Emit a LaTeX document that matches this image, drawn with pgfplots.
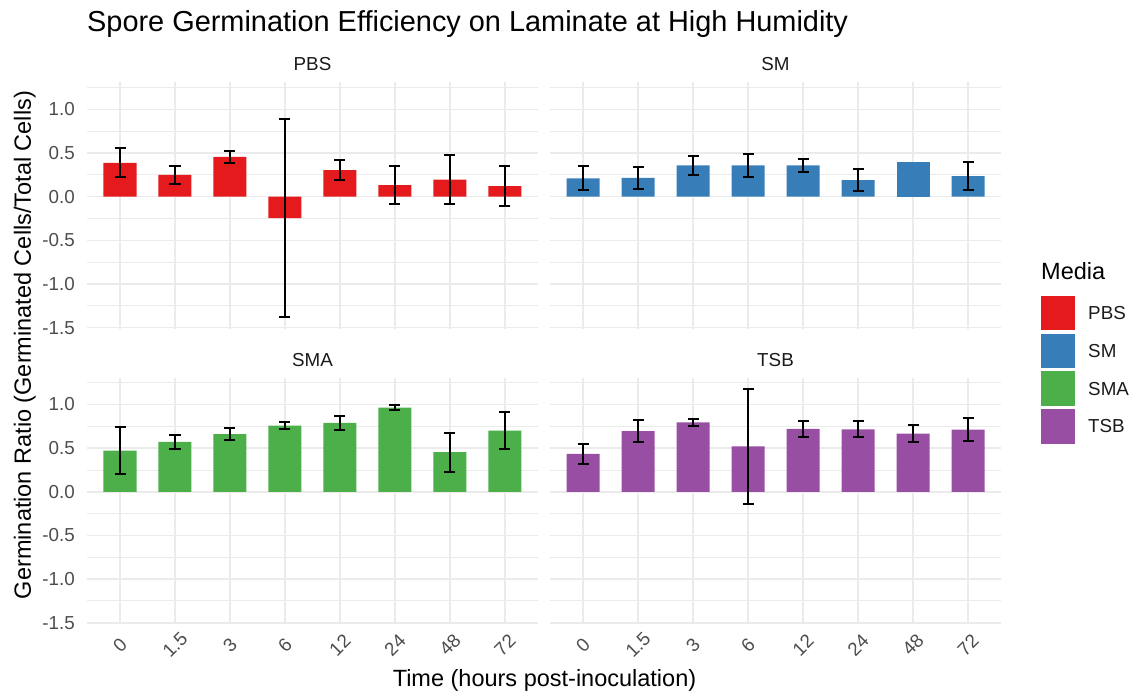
\documentclass[border=0pt]{standalone}
\usepackage{fontspec}
\setmainfont{Liberation Sans}
\usepackage{pgfplots}
\pgfplotsset{compat=1.18}
\definecolor{cPBS}{HTML}{E41A1C}
\definecolor{cSM}{HTML}{377EB8}
\definecolor{cSMA}{HTML}{4DAF4A}
\definecolor{cTSB}{HTML}{984EA3}
\definecolor{gridc}{HTML}{EBEBEB}
\definecolor{tickc}{HTML}{4D4D4D}
\definecolor{stripc}{HTML}{1A1A1A}
\pgfplotsset{
 panel/.style={
  scale only axis, width=451pt, height=246.4pt, anchor=south west,
  xmin=-0.6, xmax=7.6, ymin=-1.514, ymax=1.308,
  xtick={0,...,7}, ytick={-1.5,-1,-0.5,0,0.5,1},
  minor ytick={-1.25,-0.75,-0.25,0.25,0.75,1.25},
  xmajorgrids, ymajorgrids, yminorgrids,
  major grid style={draw=gridc, line width=1.6pt},
  minor grid style={draw=gridc, line width=0.9pt},
  axis line style={draw=none},
  major tick length=0pt, minor tick length=0pt,
  tick style={draw=none},
  tick label style={font=\fontsize{18.8}{20}\selectfont, text=tickc},
  yticklabel style={anchor=east, inner sep=0pt, xshift=-12pt},
  xticklabel style={yshift=-21pt, rotate=45, anchor=center, inner sep=0pt},
  xticklabels={}, yticklabels={},
  /pgf/number format/assume math mode=true,
 },
 leftpanel/.style={yticklabels={-1.5,-1.0,-0.5,0.0,0.5,1.0}},
 bottompanel/.style={xticklabels={0,1.5,3,6,12,24,48,72}},
 errs/.style={error bars/y dir=both, error bars/y explicit,
   error bars/error bar style={line width=2pt, black},
   error bars/error mark options={rotate=90, line width=2pt, black, mark size=5.5pt}},
 bars/.style={ybar, bar width=33pt, bar shift=0pt, draw=none, fill=#1},
}
\begin{document}
\begin{tikzpicture}[x=1pt,y=1pt]
\useasboundingbox (0,0) rectangle (1132,698);

% PBS
\begin{axis}[panel, leftpanel, at={(87pt,369.1pt)}]
\addplot[bars=cPBS, errs] coordinates {
 (0,0.387) +- (0,0.167)
 (1,0.250) +- (0,0.100)
 (2,0.455) +- (0,0.070)
 (3,-0.245) +- (0,1.135)
 (4,0.305) +- (0,0.113)
 (5,0.133) +- (0,0.220)
 (6,0.196) +- (0,0.276)
 (7,0.120) +- (0,0.230)
};
\end{axis}

% SM
\begin{axis}[panel, at={(550pt,369.1pt)}]
\addplot[bars=cSM, errs] coordinates {
 (0,0.210) +- (0,0.137)
 (1,0.215) +- (0,0.127)
 (2,0.360) +- (0,0.111)
 (3,0.360) +- (0,0.134)
 (4,0.358) +- (0,0.079)
 (5,0.190) +- (0,0.129)
 (7,0.235) +- (0,0.161)
};
\addplot[bars=cSM] coordinates {(6,0.402)};
\end{axis}

% SMA
\begin{axis}[panel, leftpanel, bottompanel, at={(87pt,74pt)}]
\addplot[bars=cSMA, errs] coordinates {
 (0,0.472) +- (0,0.271)
 (1,0.573) +- (0,0.080)
 (2,0.661) +- (0,0.072)
 (3,0.758) +- (0,0.038)
 (4,0.789) +- (0,0.082)
 (5,0.963) +- (0,0.029)
 (6,0.453) +- (0,0.225)
 (7,0.702) +- (0,0.212)
};
\end{axis}

% TSB
\begin{axis}[panel, bottompanel, at={(550pt,74pt)}]
\addplot[bars=cTSB, errs] coordinates {
 (0,0.435) +- (0,0.118)
 (1,0.695) +- (0,0.126)
 (2,0.795) +- (0,0.042)
 (3,0.520) +- (0,0.660)
 (4,0.720) +- (0,0.088)
 (5,0.715) +- (0,0.092)
 (6,0.665) +- (0,0.100)
 (7,0.712) +- (0,0.131)
};
\end{axis}

% titles and labels
\node[anchor=base west, inner sep=0pt, font=\fontsize{28.9}{30}\selectfont] at (87,666) {Spore Germination Efficiency on Laminate at High Humidity};
\node[anchor=base, inner sep=0pt, text=stripc, font=\fontsize{18.8}{20}\selectfont] at (312.5,627) {PBS};
\node[anchor=base, inner sep=0pt, text=stripc, font=\fontsize{18.8}{20}\selectfont] at (775.5,627) {SM};
\node[anchor=base, inner sep=0pt, text=stripc, font=\fontsize{18.8}{20}\selectfont] at (312.5,331.5) {SMA};
\node[anchor=base, inner sep=0pt, text=stripc, font=\fontsize{18.8}{20}\selectfont] at (775.5,331.5) {TSB};
\node[anchor=base, rotate=90, inner sep=0pt, font=\fontsize{23.5}{25}\selectfont] at (31,353) {Germination Ratio (Germinated Cells/Total Cells)};
\node[anchor=base, inner sep=0pt, font=\fontsize{23.5}{25}\selectfont] at (544.5,11) {Time (hours post-inoculation)};

% legend
\node[anchor=base west, inner sep=0pt, font=\fontsize{23.5}{25}\selectfont] at (1041,418) {Media};
\fill[cPBS] (1040.6,367.8) rectangle (1075,402.2);
\fill[cSM]  (1040.6,330.0) rectangle (1075,364.4);
\fill[cSMA] (1040.6,292.2) rectangle (1075,326.6);
\fill[cTSB] (1040.6,254.4) rectangle (1075,288.8);
\node[anchor=west, inner sep=0pt, font=\fontsize{18.8}{20}\selectfont, text=stripc] at (1088,385) {PBS};
\node[anchor=west, inner sep=0pt, font=\fontsize{18.8}{20}\selectfont, text=stripc] at (1088,347.2) {SM};
\node[anchor=west, inner sep=0pt, font=\fontsize{18.8}{20}\selectfont, text=stripc] at (1088,309.4) {SMA};
\node[anchor=west, inner sep=0pt, font=\fontsize{18.8}{20}\selectfont, text=stripc] at (1088,271.6) {TSB};
\end{tikzpicture}
\end{document}
